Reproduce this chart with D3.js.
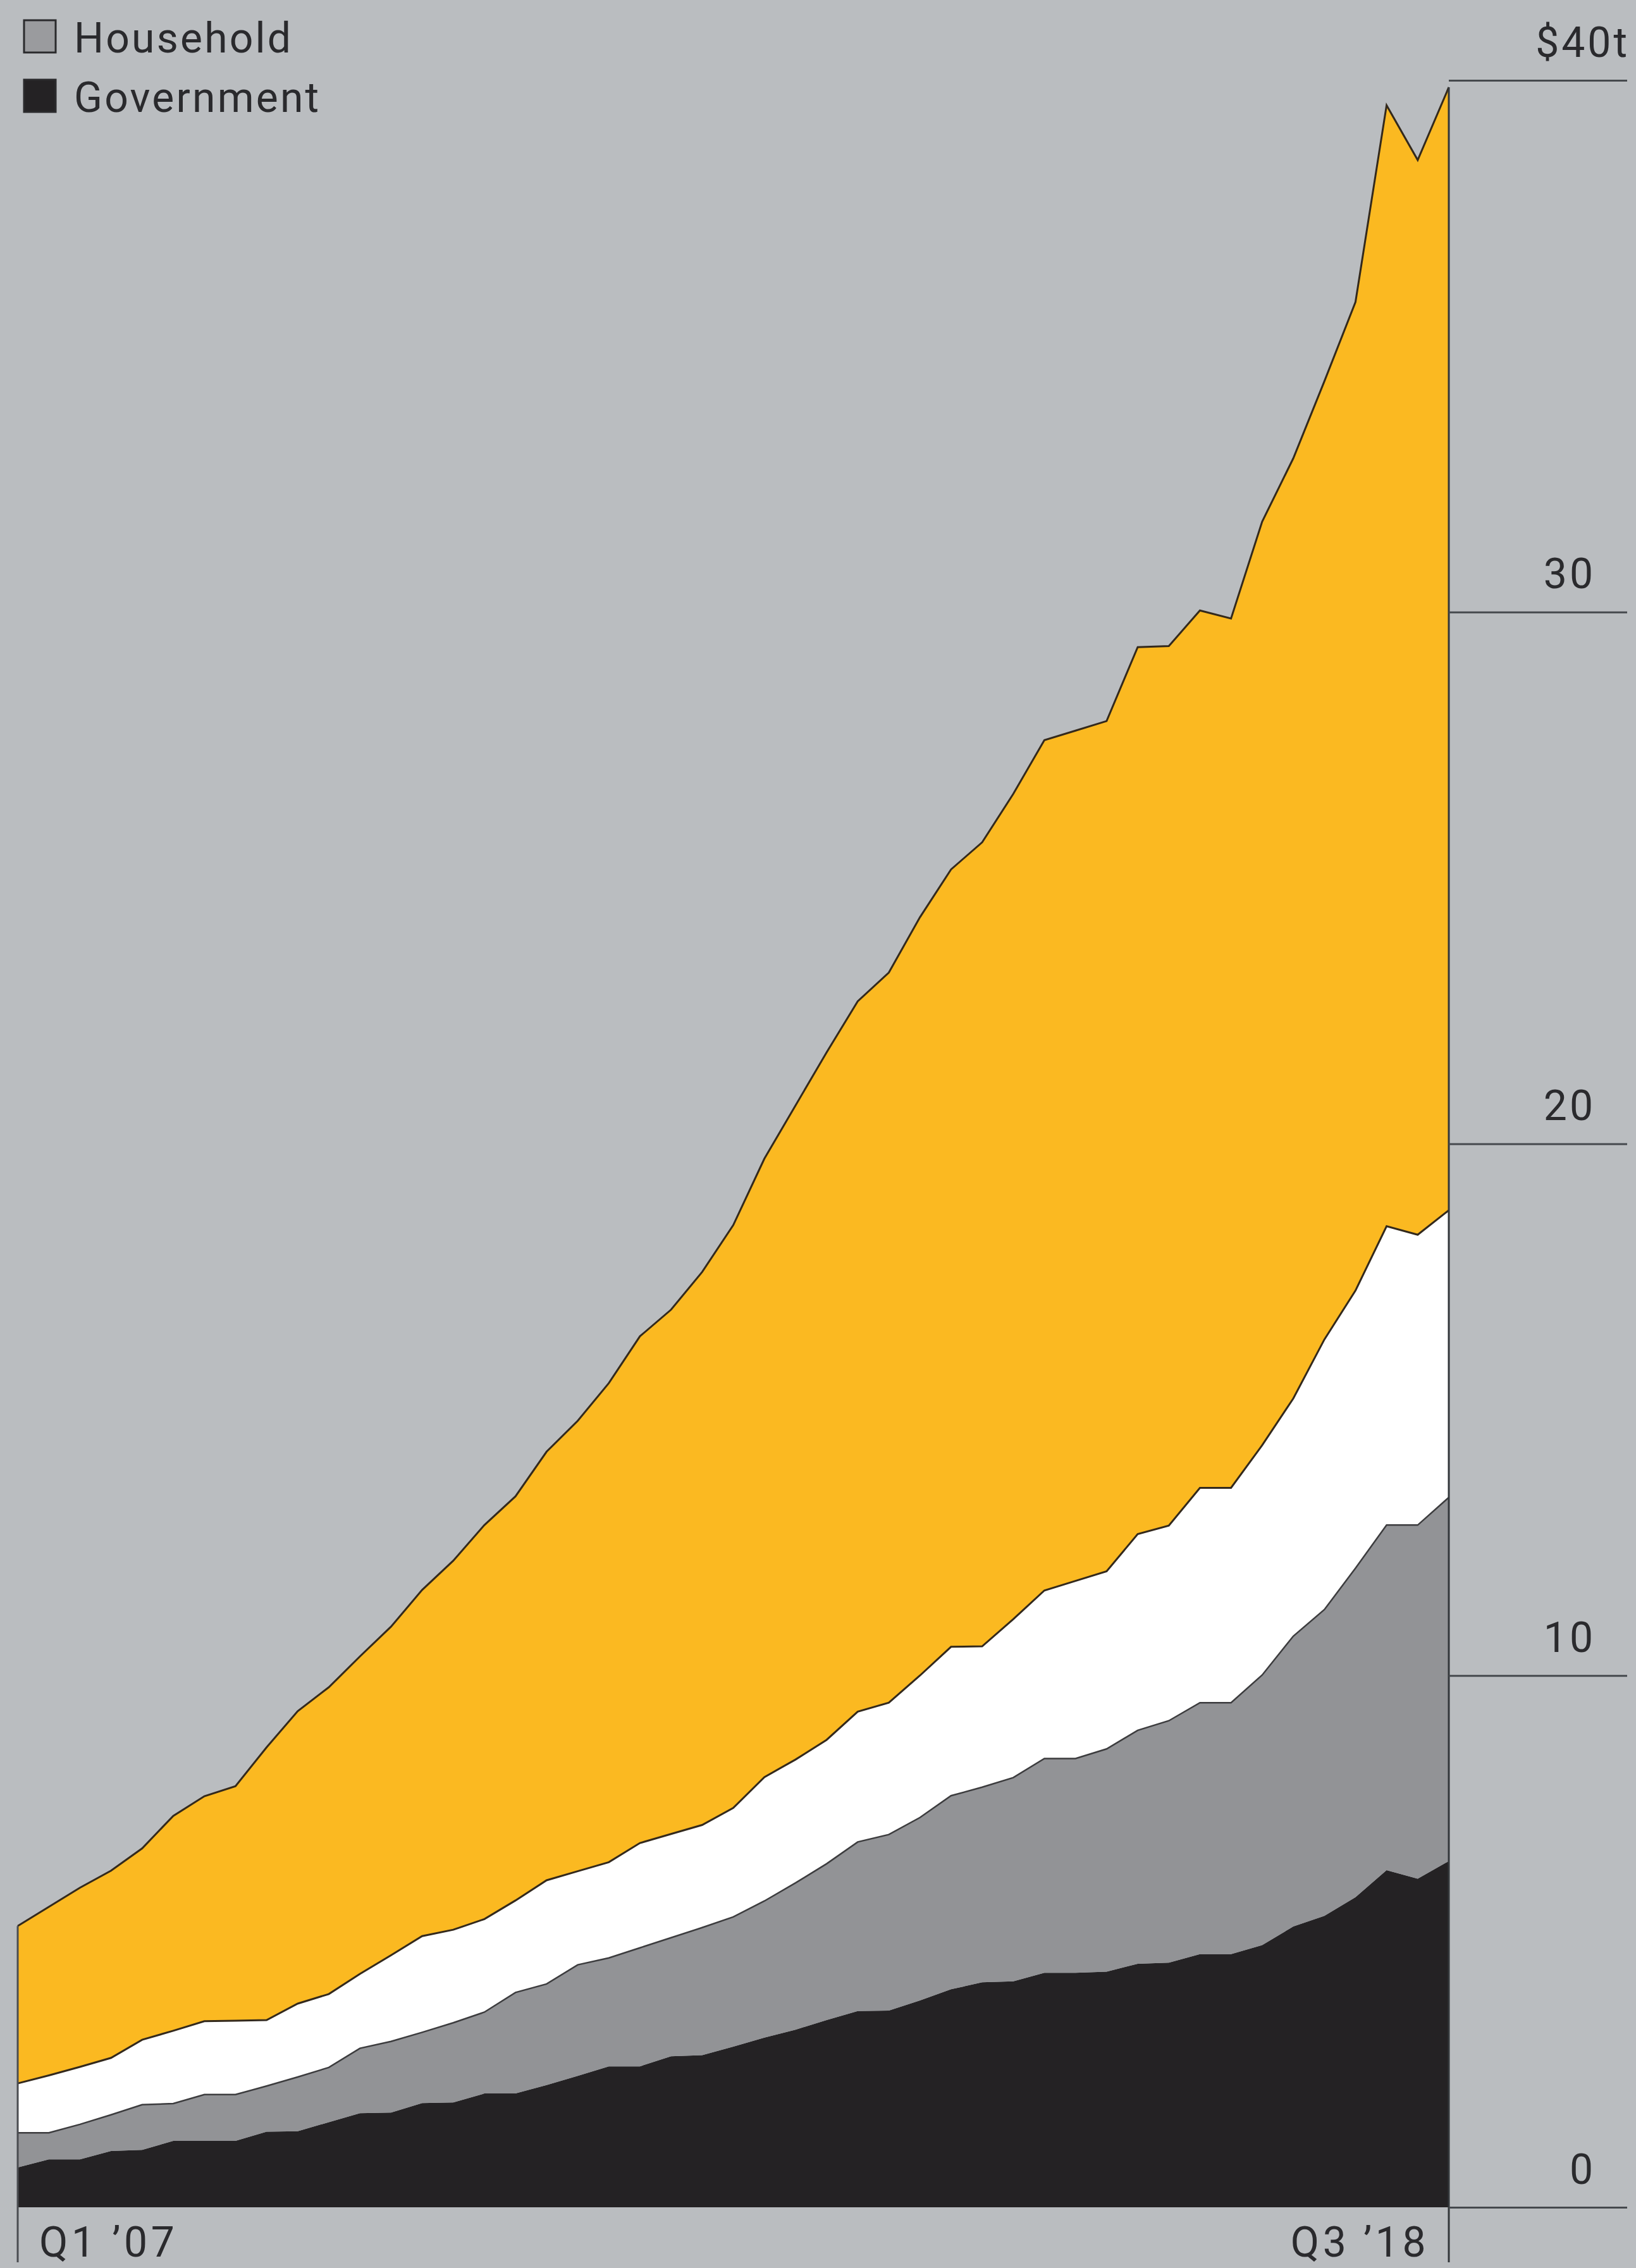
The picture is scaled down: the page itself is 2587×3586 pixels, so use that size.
<!DOCTYPE html>
<html>
<head>
<meta charset="utf-8">
<script src="https://cdn.jsdelivr.net/npm/d3@7"></script>
<style>
  html, body { margin: 0; padding: 0; background: #babdc0; }
  svg { display: block; }
  text { font-family: Roboto, "Noto Sans", "DejaVu Sans", sans-serif; fill: #2a2a2d; }
</style>
</head>
<body>
<svg id="chart" width="2587" height="3586"></svg>
<script>
// Quarterly debt outstanding, trillions of dollars
const quarters = [
  "Q1 2007","Q2 2007","Q3 2007","Q4 2007",
  "Q1 2008","Q2 2008","Q3 2008","Q4 2008",
  "Q1 2009","Q2 2009","Q3 2009","Q4 2009",
  "Q1 2010","Q2 2010","Q3 2010","Q4 2010",
  "Q1 2011","Q2 2011","Q3 2011","Q4 2011",
  "Q1 2012","Q2 2012","Q3 2012","Q4 2012",
  "Q1 2013","Q2 2013","Q3 2013","Q4 2013",
  "Q1 2014","Q2 2014","Q3 2014","Q4 2014",
  "Q1 2015","Q2 2015","Q3 2015","Q4 2015",
  "Q1 2016","Q2 2016","Q3 2016","Q4 2016",
  "Q1 2017","Q2 2017","Q3 2017","Q4 2017",
  "Q1 2018","Q2 2018","Q3 2018"
];

const government = [
  0.75, 0.90, 0.90, 1.06, 1.08, 1.25, 1.25, 1.25, 1.42, 1.43,
  1.60, 1.77, 1.78, 1.96, 1.97, 2.14, 2.14, 2.30, 2.47, 2.65,
  2.65, 2.84, 2.86, 3.02, 3.19, 3.34, 3.52, 3.69, 3.70, 3.89,
  4.10, 4.23, 4.25, 4.41, 4.41, 4.43, 4.58, 4.60, 4.76, 4.76,
  4.93, 5.28, 5.48, 5.83, 6.34, 6.18, 6.51
];

const household = [
  0.65, 0.50, 0.66, 0.68, 0.85, 0.70, 0.87, 0.87, 0.86, 1.02,
  1.03, 1.22, 1.34, 1.33, 1.50, 1.53, 1.90, 1.90, 2.09, 2.04,
  2.23, 2.23, 2.40, 2.44, 2.57, 2.76, 2.94, 3.18, 3.31, 3.44,
  3.64, 3.67, 3.83, 4.03, 4.03, 4.19, 4.39, 4.55, 4.73, 4.73,
  5.08, 5.46, 5.76, 6.19, 6.49, 6.65, 6.84
];

const financial = [
  0.93, 1.08, 1.08, 1.07, 1.22, 1.37, 1.38, 1.39, 1.24, 1.38,
  1.38, 1.40, 1.62, 1.81, 1.75, 1.75, 1.73, 1.95, 1.76, 1.80,
  1.97, 1.95, 1.93, 2.05, 2.33, 2.32, 2.33, 2.45, 2.48, 2.67,
  2.80, 2.65, 2.98, 3.16, 3.34, 3.34, 3.69, 3.67, 4.04, 4.04,
  4.32, 4.47, 5.08, 5.22, 5.62, 5.46, 5.40
];

const corporate = [
  2.96, 3.17, 3.37, 3.52, 3.60, 4.04, 4.23, 4.41, 5.13, 5.50,
  5.77, 5.97, 6.18, 6.51, 6.94, 7.41, 7.60, 8.06, 8.47, 9.01,
  9.53, 9.86, 10.40, 10.96, 11.63, 12.30, 12.93, 13.36, 13.73, 14.26,
  14.62, 15.12, 15.52, 15.99, 15.99, 15.99, 16.68, 16.54, 16.50, 16.35,
  17.37, 17.68, 18.02, 18.59, 21.08, 20.21, 21.12
];

const yTicks = [0, 10, 20, 30, 40];
const yTickLabels = ["0", "10", "20", "30", "$40t"];
const xLabels = ["Q1 \u201907", "Q3 \u201918"];

const legendItems = [
  { label: "Household", key: "household" },
  { label: "Government", key: "government" }
];

const keys = ["government", "household", "financial", "corporate"];
const fills = {
  government: "#242224",
  household: "#929396",
  financial: "#ffffff",
  corporate: "#fbb921"
};

const table = quarters.map((q, i) => ({
  quarter: q,
  government: government[i],
  household: household[i],
  financial: financial[i],
  corporate: corporate[i]
}));

const W = 2587, H = 3586;
const plotLeft = 28, plotRight = 2291, plotTop = 127, plotBottom = 3490;
const axisEnd = 2573, labelEnd = 2523, frameBottom = 3577, textBase = 3568;

const svg = d3.select("#chart");
svg.append("rect").attr("width", W).attr("height", H).attr("fill", "#babdc0");

const x = d3.scalePoint().domain(quarters).range([plotLeft, plotRight]);
const y = d3.scaleLinear().domain([0, 40]).range([plotBottom, plotTop]);

const series = d3.stack().keys(keys)(table);

const area = d3.area()
  .x(d => x(d.data.quarter))
  .y0(d => y(d[0]))
  .y1(d => y(d[1]));

const topLine = d3.line()
  .x(d => x(d.data.quarter))
  .y(d => y(d[1]));

const g = svg.append("g");

g.selectAll("path.layer")
  .data(series)
  .join("path")
  .attr("class", "layer")
  .attr("fill", s => fills[s.key])
  .attr("d", area);

// outlines along the upper edge of the stacked layers
g.selectAll("path.edge")
  .data(series.filter(s => s.key !== "government"))
  .join("path")
  .attr("class", "edge")
  .attr("fill", "none")
  .attr("stroke", s => s.key === "household" ? "#3c3c3e" : "#33291c")
  .attr("stroke-width", s => s.key === "household" ? 2.5 : 3)
  .attr("stroke-linejoin", "miter")
  .attr("d", topLine);

// vertical frame lines at the first and last quarter
const last = series[series.length - 1];
const firstTotal = last[0][1];
const lastTotal = last[last.length - 1][1];
svg.append("line")
  .attr("x1", plotLeft).attr("x2", plotLeft)
  .attr("y1", y(firstTotal)).attr("y2", frameBottom)
  .attr("stroke", "#4a4d51").attr("stroke-width", 3);
svg.append("line")
  .attr("x1", plotRight).attr("x2", plotRight)
  .attr("y1", y(lastTotal)).attr("y2", frameBottom)
  .attr("stroke", "#33373a").attr("stroke-width", 3);

// right-hand value axis
const axis = d3.axisRight(y)
  .tickValues(yTicks)
  .tickSize(axisEnd - plotRight)
  .tickFormat((d, i) => yTickLabels[i]);

const ax = svg.append("g")
  .attr("transform", `translate(${plotRight},0)`)
  .call(axis);
ax.select(".domain").remove();
ax.selectAll(".tick line").attr("stroke", "#45494d").attr("stroke-width", 3);
ax.selectAll(".tick text")
  .attr("x", d => (d === 40 ? axisEnd + 4 : labelEnd) - plotRight)
  .attr("dy", -38)
  .attr("text-anchor", "end")
  .attr("font-size", 66)
  .attr("letter-spacing", 4)
  .attr("fill", "#2a2a2d");

// period labels
svg.append("text")
  .attr("x", 62).attr("y", textBase)
  .attr("font-size", 66).attr("letter-spacing", 5.5)
  .text(xLabels[0]);
svg.append("text")
  .attr("x", 2260).attr("y", textBase)
  .attr("text-anchor", "end")
  .attr("font-size", 66).attr("letter-spacing", 5.5)
  .text(xLabels[1]);

// legend
const legend = svg.append("g");
legendItems.forEach((item, i) => {
  const yy = 32 + i * 94;
  legend.append("rect")
    .attr("x", 38).attr("y", yy)
    .attr("width", 50).attr("height", 51)
    .attr("fill", item.key === "household" ? "#9a9b9e" : fills.government)
    .attr("stroke", "#2a2a2c")
    .attr("stroke-width", 3);
  legend.append("text")
    .attr("x", 117).attr("y", yy + 51)
    .attr("font-size", 66).attr("letter-spacing", 3.2)
    .text(item.label);
});
</script>
</body>
</html>
